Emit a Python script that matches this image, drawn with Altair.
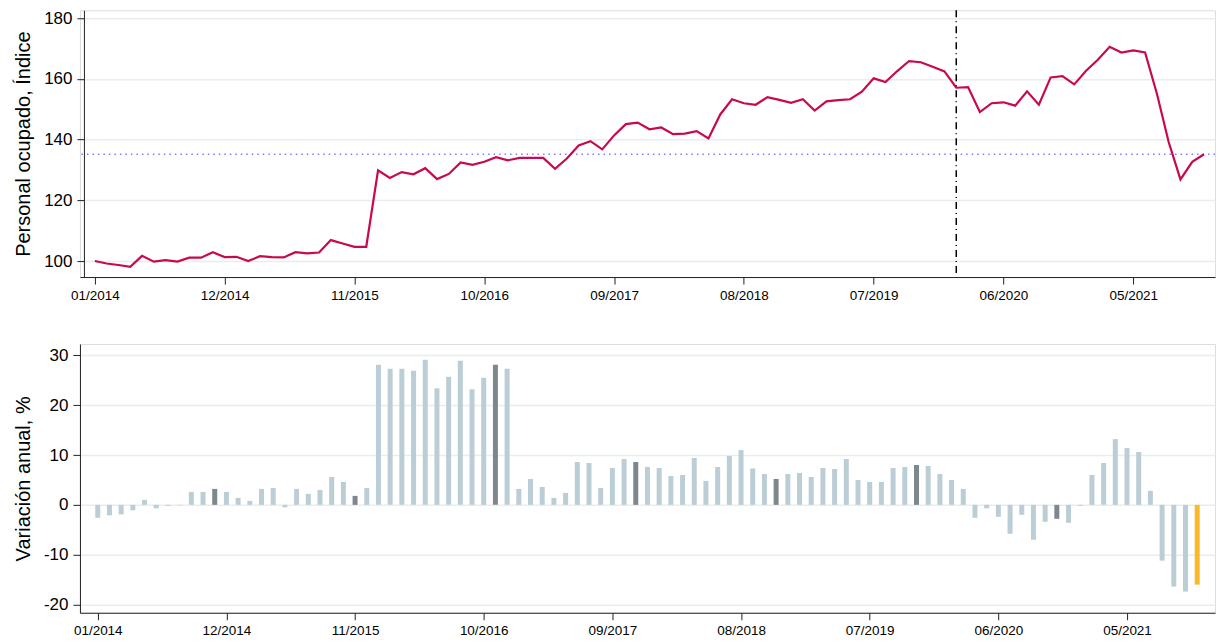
import altair as alt
import pandas as pd

# ---------------- data ----------------
start_year, start_month, n_months = 2014, 1, 95
month_labels = []
for i in range(n_months):
    m = (start_month - 1 + i) % 12 + 1
    y = start_year + (start_month - 1 + i) // 12
    month_labels.append(f"{m:02d}/{y}")

index_values = [
    100.0, 99.2, 98.7, 98.1, 101.7, 99.8, 100.3, 99.8, 101.1, 101.1,
    102.9, 101.3, 101.4, 100.0, 101.6, 101.3, 101.2, 102.9, 102.5, 102.8,
    106.9, 105.8, 104.7, 104.7, 129.9, 127.4, 129.3, 128.6, 130.6, 127.0,
    128.7, 132.5, 131.7, 132.7, 134.2, 133.2, 134.0, 134.0, 134.0, 130.4,
    133.8, 138.1, 139.5, 136.8, 141.4, 145.1, 145.6, 143.4, 144.0, 141.8,
    142.0, 142.8, 140.4, 148.3, 153.3, 152.0, 151.5, 154.0, 153.1, 152.1,
    153.3, 149.6, 152.6, 153.0, 153.3, 155.8, 160.2, 159.0, 162.6, 165.9,
    165.5, 164.0, 162.5, 157.1, 157.3, 149.1, 152.0, 152.3, 151.2, 155.9,
    151.5, 160.5, 160.9, 158.2, 162.7, 166.3, 170.6, 168.7, 169.4, 168.7,
    155.2, 139.2, 126.9, 132.7, 135.2,
]

yoy_values = [
    -2.6, -2.1, -1.9, -1.1, 1.0, -0.7, -0.2, -0.1, 2.6, 2.6,
    3.2, 2.6, 1.4, 0.8, 3.2, 3.4, -0.5, 3.2, 2.2, 3.0,
    5.6, 4.6, 1.8, 3.4, 28.1, 27.3, 27.3, 26.9, 29.1, 23.4,
    25.7, 28.9, 23.2, 25.5, 28.1, 27.3, 3.2, 5.2, 3.6, 1.4,
    2.4, 8.6, 8.4, 3.4, 7.4, 9.2, 8.6, 7.6, 7.4, 5.8,
    6.0, 9.4, 4.8, 7.6, 9.8, 11.0, 7.3, 6.2, 5.2, 6.2,
    6.4, 5.6, 7.4, 7.2, 9.2, 5.0, 4.6, 4.6, 7.4, 7.6,
    8.0, 7.8, 6.2, 5.0, 3.2, -2.6, -0.7, -2.4, -5.8, -2.0,
    -7.0, -3.4, -2.8, -3.6, -0.2, 6.0, 8.4, 13.2, 11.4, 10.6,
    2.8, -11.2, -16.4, -17.4, -16.0,
]

tick_positions = [0, 11, 22, 33, 44, 55, 66, 77, 88]
tick_labels = ["01/2014", "12/2014", "11/2015", "10/2016", "09/2017",
               "08/2018", "07/2019", "06/2020", "05/2021"]
break_month = "02/2020"

latest_month = month_labels[-1][:2]
bar_kind = []
for i, lab in enumerate(month_labels):
    if i == n_months - 1:
        bar_kind.append("latest")
    elif lab[:2] == latest_month:
        bar_kind.append("same")
    else:
        bar_kind.append("other")

df = pd.DataFrame({
    "idx": list(range(n_months)),
    "month": month_labels,
    "index": index_values,
    "yoy": yoy_values,
    "kind": bar_kind,
})
ref_df = pd.DataFrame({"v": [index_values[-1]]})
brk_df = pd.DataFrame({"b": [month_labels.index(break_month)]})

label_expr = (
    "[" + ",".join(f"'{t}'" for t in tick_labels) + "]"
    + "[indexof([" + ",".join(str(p) for p in tick_positions) + "], datum.value)]"
)

FONT = "Liberation Sans"
GRID = "#E8EEF0"

def x_axis():
    return alt.Axis(values=tick_positions, labelExpr=label_expr, title=None,
                    grid=False, tickSize=7, labelPadding=4, labelFontSize=13.5,
                    labelFont=FONT, labelColor="black", domainColor="#222",
                    tickColor="#222", labelFlush=False)

def y_axis(title, vals, offset=0):
    return alt.Axis(values=vals, title=title, grid=True, gridColor=GRID,
                    gridWidth=1.5, tickSize=7, labelPadding=5, labelFontSize=17,
                    labelExpr="'' + datum.value", offset=offset,
                    labelFont=FONT, labelColor="black", titleFont=FONT,
                    titleFontSize=20, titleFontWeight="normal", titleColor="black",
                    titlePadding=10, domainColor="#222", tickColor="#222")

# ---------------- top panel ----------------
xs_top = alt.Scale(domain=[-1.263, 94.927], nice=False, zero=False)
ys_top = alt.Scale(domain=[94.73, 182.63], nice=False, zero=False)

line = alt.Chart(df).mark_line(color="#C8094F", strokeWidth=2.2).encode(
    x=alt.X("idx:Q", scale=xs_top, axis=x_axis()),
    y=alt.Y("index:Q", scale=ys_top,
            axis=y_axis("Personal ocupado, Índice", [100, 120, 140, 160, 180], offset=-4)),
)
ref_rule = alt.Chart(ref_df).mark_rule(color="#7C7CFF", strokeWidth=1.5,
                                       strokeDash=[1.5, 4]).encode(y="v:Q")
brk_rule = alt.Chart(brk_df).mark_rule(color="black", strokeWidth=1.5,
                                       strokeDash=[7, 4, 1, 4]).encode(x="b:Q")

top = alt.layer(ref_rule, line, brk_rule).properties(width=1136, height=267)

# ---------------- bottom panel ----------------
xs_bot = alt.Scale(domain=[-1.096, 95.096], nice=False, zero=False)
ys_bot = alt.Scale(domain=[-21.65, 32.28], nice=False, zero=False)

bars = alt.Chart(df).mark_bar(size=5).encode(
    x=alt.X("idx:Q", scale=xs_bot, axis=x_axis()),
    y=alt.Y("yoy:Q", scale=ys_bot,
            axis=y_axis("Variación anual, %", [-20, -10, 0, 10, 20, 30])),
    color=alt.Color("kind:N",
                    scale=alt.Scale(domain=["other", "same", "latest"],
                                    range=["#BCCED5", "#7D878C", "#FBB829"]),
                    legend=None),
).properties(width=1136, height=269)

chart = alt.vconcat(top, bars, spacing=41).properties(
    padding={"left": 4, "top": 0, "right": 0, "bottom": 0}
).configure_view(stroke=None).configure(background="white")

chart.save("out.html", embed_options={"renderer": "svg", "actions": False})
